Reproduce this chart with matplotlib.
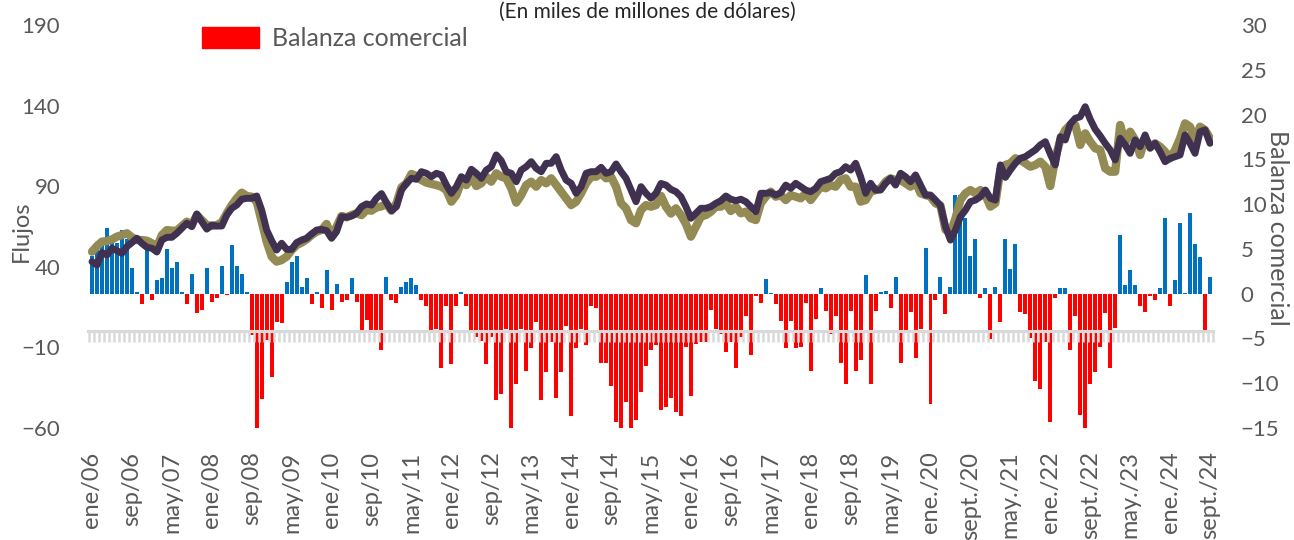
import matplotlib
matplotlib.use("Agg")
import matplotlib.pyplot as plt
import matplotlib.patches as mpatches
import numpy as np

plt.rcParams["font.family"] = ["Lato", "DejaVu Sans"]

# Monthly series, ene/06 .. sept/24 (miles de millones de dólares)
balanza = [
    4.2, 5.3, 5.7, 7.3, 5.9, 5.7, 7.1, 6.1, 2.9, 0.2, -1.1, 5.0,
    -0.7, 1.5, 1.8, 5.0, 2.9, 3.5, 0.2, -1.1, 2.2, -2.2, -1.8, 2.9,
    -0.9, -0.45, 3.1, -0.2, 5.4, 3.1, 2.2, 0.2, -4.6, -15.2, -11.8, -5.2,
    -9.3, -3.2, -3.3, 1.3, 3.5, 4.2, 0.7, 1.7, -1.1, 0.2, -1.6, 2.6,
    -1.8, 1.1, -0.9, -0.7, 1.7, -0.9, -4.2, -2.9, -4.2, -4.4, -6.3, 1.9,
    -0.7, -1.0, 0.8, 1.3, 1.7, 1.0, -0.7, -1.4, -4.3, -3.9, -8.3, -1.4,
    -7.9, -1.4, 0.2, -1.4, -4.2, -4.8, -5.3, -7.9, -4.8, -11.9, -11.2, -3.9,
    -15.2, -10.1, -3.9, -8.6, -6.1, -3.2, -11.9, -8.8, -5.4, -11.7, -8.8, -3.6,
    -13.7, -6.1, -3.9, -5.7, -1.4, -1.6, -7.7, -7.7, -10.3, -14.3, -15.2, -12.1,
    -15.2, -14.1, -11.0, -8.1, -6.3, -5.7, -13.0, -12.7, -11.7, -13.2, -13.7, -5.9,
    -11.4, -5.6, -5.4, -5.4, -1.8, -3.9, -4.5, -6.5, -5.4, -8.3, -4.8, -2.5,
    -6.8, -0.3, -1.0, 1.6, 0.1, -1.2, -3.0, -6.1, -3.0, -6.1, -5.9, -1.0,
    -8.6, -2.8, 0.6, -1.9, -4.5, -2.5, -7.7, -10.1, -1.9, -8.6, -7.4, 2.1,
    -10.1, -1.9, 0.15, 0.35, -1.6, 1.9, -7.7, -4.1, -2.1, -7.2, -3.9, 5.1,
    -12.3, -0.7, 1.9, -2.3, 0.7, 11.0, 11.0, 8.4, 4.2, 6.1, -0.5, 0.6,
    -5.1, 0.7, -3.2, 6.1, 2.8, 5.5, -2.1, -2.3, -5.0, -9.8, -10.7, -5.4,
    -14.3, -0.5, 0.6, 0.6, -6.3, -2.5, -13.5, -15.2, -10.1, -8.8, -5.9, -2.2,
    -8.3, -3.8, 6.6, 1.0, 2.6, 1.0, -1.4, -2.1, -0.3, -0.7, 0.6, 8.4,
    -1.4, 1.5, 7.9, 0.1, 9.0, 5.5, 4.1, -4.1, 1.9,
]

exportaciones = [
    49.4, 52.9, 55.6, 56.0, 57.0, 58.7, 59.7, 60.8, 58.3, 56.6, 56.6, 56.2,
    54.6, 52.1, 59.7, 62.8, 62.4, 62.4, 65.3, 68.0, 65.9, 72.1, 69.0, 65.9,
    65.3, 65.9, 67.6, 73.2, 78.3, 82.5, 86.0, 83.9, 83.5, 80.4, 68.0, 55.6,
    46.3, 43.2, 44.2, 46.3, 50.4, 53.5, 55.0, 57.0, 59.7, 61.8, 62.8, 66.6,
    58.7, 64.9, 71.5, 70.7, 72.1, 73.2, 72.1, 75.2, 74.8, 76.8, 77.5, 79.0,
    74.8, 79.4, 89.3, 91.8, 97.6, 96.3, 93.8, 92.2, 91.4, 90.7, 89.7, 87.6,
    80.4, 84.5, 92.8, 90.7, 95.9, 90.1, 91.8, 95.9, 92.8, 98.0, 95.9, 94.9,
    88.7, 79.8, 84.5, 90.7, 92.8, 89.7, 93.8, 91.8, 94.9, 90.7, 86.6, 82.5,
    78.3, 80.4, 85.6, 91.8, 95.9, 95.9, 98.0, 94.9, 95.9, 89.7, 79.4, 76.3,
    69.0, 67.0, 75.2, 78.3, 77.3, 78.3, 84.0, 77.3, 73.0, 76.3, 72.1, 66.6,
    58.7, 64.9, 71.1, 72.1, 74.2, 77.3, 77.3, 79.4, 74.6, 77.3, 73.2, 74.2,
    70.1, 69.0, 79.4, 83.5, 86.6, 83.5, 84.5, 81.4, 84.5, 83.5, 82.5, 85.6,
    81.4, 85.6, 89.7, 88.7, 90.7, 89.7, 93.8, 94.9, 89.7, 89.7, 80.4, 81.4,
    86.6, 87.6, 88.7, 92.8, 94.9, 93.8, 93.8, 91.8, 89.7, 92.8, 85.6, 84.5,
    83.5, 79.4, 78.0, 63.0, 61.0, 70.0, 81.4, 85.6, 87.6, 85.6, 87.6, 84.5,
    77.3, 79.4, 100.1, 103.2, 104.2, 107.3, 106.3, 104.2, 102.1, 103.2, 105.2, 102.1,
    90.1, 107.3, 118.7, 124.9, 128.0, 128.0, 115.6, 122.8, 117.6, 113.5, 112.5, 101.1,
    99.0, 99.0, 128.0, 116.6, 123.8, 118.7, 109.4, 119.7, 114.5, 116.6, 114.5, 111.4,
    107.3, 112.5, 119.7, 129.0, 126.9, 118.7, 126.9, 124.9, 119.7,
]

importaciones = [
    43.2, 41.1, 48.8, 47.3, 51.5, 50.0, 48.4, 52.5, 55.0, 57.7, 54.5, 52.1,
    51.5, 49.2, 56.6, 58.3, 58.3, 60.8, 63.9, 67.0, 64.9, 72.8, 68.0, 63.4,
    65.9, 65.3, 65.3, 72.1, 76.3, 78.3, 81.9, 82.5, 82.5, 83.9, 75.2, 62.8,
    56.2, 50.4, 54.6, 50.8, 50.8, 55.0, 56.6, 57.7, 60.4, 62.8, 63.2, 62.4,
    57.7, 61.8, 71.1, 70.7, 71.5, 73.2, 77.3, 79.0, 78.3, 82.5, 85.4, 79.8,
    74.8, 77.3, 87.6, 91.8, 94.9, 94.3, 99.0, 98.0, 95.9, 98.0, 97.0, 90.7,
    85.6, 89.7, 95.9, 93.8, 100.5, 98.0, 94.9, 100.0, 102.1, 109.4, 105.8, 99.0,
    98.0, 92.8, 100.0, 102.1, 105.2, 101.1, 99.0, 104.2, 104.2, 108.3, 100.0, 93.8,
    91.8, 85.6, 89.7, 98.0, 99.0, 99.0, 101.7, 98.0, 99.0, 103.8, 99.0, 94.9,
    87.6, 80.4, 89.7, 85.6, 82.5, 85.6, 91.7, 90.7, 88.0, 86.6, 83.5, 77.3,
    70.1, 73.2, 76.3, 76.3, 77.3, 79.4, 81.0, 83.9, 81.9, 81.0, 81.9, 80.4,
    77.3, 74.2, 85.6, 85.6, 86.0, 84.5, 86.0, 90.7, 88.7, 91.8, 89.7, 87.6,
    86.6, 88.7, 92.8, 93.8, 94.9, 98.0, 99.0, 102.1, 100.0, 104.2, 95.9, 85.6,
    91.8, 87.6, 87.6, 91.8, 94.9, 90.7, 98.0, 95.9, 92.8, 97.0, 90.7, 84.5,
    84.5, 81.4, 78.0, 65.0, 56.6, 62.8, 71.1, 75.2, 80.4, 81.4, 83.5, 87.6,
    82.5, 81.4, 103.2, 95.5, 100.1, 104.2, 107.3, 108.3, 110.4, 112.5, 115.6, 117.6,
    110.0, 103.2, 120.7, 118.7, 128.6, 132.1, 133.1, 139.3, 131.5, 125.3, 121.2, 116.6,
    112.5, 106.3, 119.7, 115.6, 110.4, 118.7, 114.5, 121.8, 113.5, 116.6, 111.4, 105.2,
    107.3, 108.3, 109.4, 121.8, 116.6, 110.4, 123.8, 124.9, 116.6,
]

tick_labels = [
    "ene/06", "sep/06", "may/07", "ene/08", "sep/08", "may/09", "ene/10",
    "sep/10", "may/11", "ene/12", "sep/12", "may/13", "ene/14", "sep/14",
    "may/15", "ene/16", "sep/16", "may/17", "ene/18", "sep/18", "may/19",
    "ene./20", "sept./20", "may./21", "ene./22", "sept./22", "may./23",
    "ene./24", "sept./24",
]
tick_step = 8

BLUE = "#0070C0"
RED = "#FF0000"
OLIVE = "#948A54"
PURPLE = "#403151"
AXIS_GRAY = "#D9D9D9"
TEXT_GRAY = "#595959"

W, H = 1294, 540
n = len(balanza)
x = np.arange(n)

fig = plt.figure(figsize=(W / 100, H / 100), dpi=100)
rect = [88 / W, 1 - 428 / H, 1125 / W, 403 / H]

# bars (right scale) underneath
ax_bar = fig.add_axes(rect)
bar_colors = [BLUE if v >= 0 else RED for v in balanza]
ax_bar.bar(x, balanza, width=0.8, color=bar_colors, linewidth=0)
ax_bar.set_ylim(-15, 30)
ax_bar.set_yticks(range(-15, 31, 5))
ax_bar.yaxis.tick_right()
ax_bar.tick_params(axis="y", length=0, pad=20, labelsize=16, labelcolor=TEXT_GRAY)
ax_bar.set_xlim(-0.8, n - 0.4)
ax_bar.set_xticks(x[::tick_step], tick_labels, rotation=90)
ax_bar.tick_params(axis="x", length=0, pad=17, labelsize=17, labelcolor=TEXT_GRAY)
for s in ax_bar.spines.values():
    s.set_visible(False)

legend_items = [mpatches.Patch(color=RED, label="Balanza comercial")]
leg = ax_bar.legend(handles=legend_items, loc="upper left",
                    bbox_to_anchor=(0.101, 0.995), frameon=False, fontsize=18,
                    handlelength=2.3, handleheight=0.9, handletextpad=0.5,
                    borderpad=0, borderaxespad=0)
for t in leg.get_texts():
    t.set_color(TEXT_GRAY)

# lines (left scale) on top, with category axis at 0
ax_line = fig.add_axes(rect)
ax_line.patch.set_visible(False)
ax_line.plot(x, exportaciones, color=OLIVE, linewidth=6,
             solid_joinstyle="round", solid_capstyle="round", zorder=3)
ax_line.plot(x, importaciones, color=PURPLE, linewidth=5,
             solid_joinstyle="round", solid_capstyle="round", zorder=4)
ax_line.set_ylim(-60, 190)
ax_line.set_yticks(range(-60, 191, 50))
ax_line.tick_params(axis="y", length=0, pad=20, labelsize=16, labelcolor=TEXT_GRAY)
ax_line.set_xlim(ax_bar.get_xlim())
ax_line.set_xticks([])
ax_line.set_xticks(np.arange(n + 1) - 0.5, minor=True)
ax_line.tick_params(axis="x", which="minor", direction="out", length=8,
                    width=1.8, color=AXIS_GRAY, labelbottom=False)
for name, s in ax_line.spines.items():
    s.set_visible(name == "bottom")
ax_line.spines["bottom"].set_position(("data", 0))
ax_line.spines["bottom"].set_color(AXIS_GRAY)
ax_line.spines["bottom"].set_linewidth(2.2)
ax_line.spines["bottom"].set_zorder(5)

fig.text(21 / W, 1 - 231 / H, "Flujos", rotation=90, ha="center", va="center",
         fontsize=17, color=TEXT_GRAY)
fig.text(1278 / W, 1 - 228 / H, "Balanza comercial", rotation=270,
         ha="center", va="center", fontsize=18, color=TEXT_GRAY)
fig.text(647 / W, 1 - 2 / H, "(En miles de millones de dólares)",
         ha="center", va="top", fontsize=15, color="#262626")

fig.savefig("out.png", dpi=100)
